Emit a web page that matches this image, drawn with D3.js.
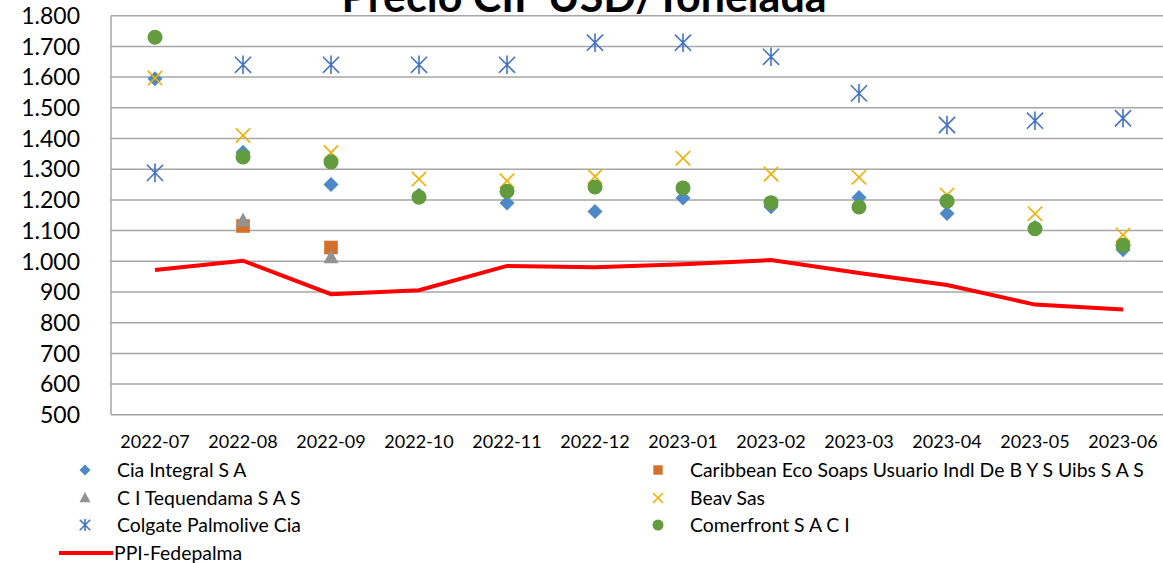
<!DOCTYPE html>
<html>
<head>
<meta charset="utf-8">
<script src="https://cdn.jsdelivr.net/npm/d3@7"></script>
<style>
  body { margin: 0; background: #fff; }
  text { font-family: Lato, "Open Sans", sans-serif; fill: #000; }
</style>
</head>
<body>
<svg id="chart"></svg>
<script>
const months = ["2022-07", "2022-08", "2022-09", "2022-10", "2022-11", "2022-12",
                "2023-01", "2023-02", "2023-03", "2023-04", "2023-05", "2023-06"];
const yTicks = [500, 600, 700, 800, 900, 1000, 1100, 1200, 1300, 1400, 1500, 1600, 1700, 1800];

// null = sin dato en ese mes
const ciaIntegral = [1595, 1355, 1250, 1215, 1190, 1162, 1206, 1178, 1208, 1156, 1110, 1038];
const caribbean   = [null, 1115, 1045, null, null, null, null, null, null, null, null, null];
const tequendama  = [null, 1132, 1012, null, null, null, null, null, null, null, null, null];
const beavSas     = [1597, 1410, 1354, 1268, 1262, 1276, 1336, 1284, 1274, 1216, 1155, 1086];
const colgate     = [1288, 1640, 1640, 1640, 1640, 1712, 1712, 1666, 1547, 1444, 1458, 1466];
const comerfront  = [1730, 1340, 1324, 1209, 1228, 1242, 1239, 1191, 1177, 1196, 1106, 1052];
const ppi         = [972, 1002, 893, 906, 985, 981, 990, 1004, 962, 923, 859, 843];

const width = 1163;
const height = 563;
const margin = { top: 15.7, left: 111, right: 1167, bottom: 414.8 };

const svg = d3.select("#chart")
    .attr("width", width)
    .attr("height", height);

const xScale = d3.scaleBand()
    .domain(months)
    .range([margin.left, margin.right]);

const yScale = d3.scaleLinear()
    .domain([500, 1800])
    .range([margin.bottom, margin.top]);

const cx = m => xScale(m) + xScale.bandwidth() / 2;

// rejilla
svg.append("g")
    .selectAll("line")
    .data(yTicks)
    .enter().append("line")
    .attr("x1", margin.left)
    .attr("x2", margin.right)
    .attr("y1", d => yScale(d))
    .attr("y2", d => yScale(d))
    .style("stroke", "#a6a6a6")
    .style("stroke-width", 1.5);

svg.append("line")
    .attr("x1", margin.left).attr("x2", margin.left)
    .attr("y1", margin.top).attr("y2", margin.bottom)
    .style("stroke", "#a6a6a6")
    .style("stroke-width", 1.5);

// eje y
const fmt = d => d3.format(",")(d).replace(",", ".");
svg.append("g")
    .selectAll("text")
    .data(yTicks)
    .enter().append("text")
    .attr("x", 80)
    .attr("y", d => yScale(d))
    .attr("dy", "0.36em")
    .attr("text-anchor", "end")
    .style("font-size", "23px")
    .text(fmt);

// eje x
svg.append("g")
    .selectAll("text")
    .data(months)
    .enter().append("text")
    .attr("x", d => cx(d))
    .attr("y", 448)
    .attr("text-anchor", "middle")
    .style("font-size", "18px")
    .text(d => d);

// titulo (cortado arriba, como en el original)
svg.append("text")
    .attr("x", 584)
    .attr("y", 11.5)
    .attr("text-anchor", "middle")
    .style("font-size", "43px")
    .style("font-weight", "bold")
    .text("Precio CIF USD/Tonelada");

const series = [
    { name: "Cia Integral S A", values: ciaIntegral, shape: "diamond", color: "#4f88c6" },
    { name: "Caribbean Eco Soaps Usuario Indl De B Y S Uibs S A S", values: caribbean, shape: "square", color: "#d2702c" },
    { name: "C I Tequendama S A S", values: tequendama, shape: "triangle", color: "#939393" },
    { name: "Beav Sas", values: beavSas, shape: "x", color: "#f0b000" },
    { name: "Colgate Palmolive Cia", values: colgate, shape: "asterisk", color: "#4472c4" },
    { name: "Comerfront S A C I", values: comerfront, shape: "circle", color: "#629c3e" }
];

function drawMarker(g, shape, color, s) {
    if (shape === "diamond") {
        g.append("path").attr("d", `M0,${-s}L${s},0L0,${s}L${-s},0Z`).attr("fill", color);
    } else if (shape === "square") {
        g.append("rect").attr("x", -s * 0.85).attr("y", -s * 0.85)
            .attr("width", s * 1.7).attr("height", s * 1.7).attr("fill", color);
    } else if (shape === "triangle") {
        g.append("path").attr("d", `M0,${-s * 1.1}L${s},${s * 0.75}L${-s},${s * 0.75}Z`).attr("fill", color);
    } else if (shape === "x") {
        const a = s * 0.9;
        g.append("path").attr("d", `M${-a},${-a}L${a},${a}M${a},${-a}L${-a},${a}`)
            .attr("stroke", color).attr("stroke-width", 1.6).attr("fill", "none");
    } else if (shape === "asterisk") {
        const a = s * 0.95;
        g.append("path").attr("d", `M${-a},${-a}L${a},${a}M${a},${-a}L${-a},${a}M0,${-a * 1.15}L0,${a * 1.15}`)
            .attr("stroke", color).attr("stroke-width", 1.6).attr("fill", "none");
    } else if (shape === "circle") {
        g.append("circle").attr("r", s).attr("fill", color);
    }
}

const markerSize = { diamond: 7.5, square: 8, triangle: 7.5, x: 8, asterisk: 8.5, circle: 7.5 };

series.forEach(sr => {
    const pts = months.map((m, i) => ({ m: m, v: sr.values[i] })).filter(d => d.v !== null);
    svg.append("g")
        .selectAll("g")
        .data(pts)
        .enter().append("g")
        .attr("transform", d => `translate(${cx(d.m)},${yScale(d.v)})`)
        .each(function () { drawMarker(d3.select(this), sr.shape, sr.color, markerSize[sr.shape]); });
});

// linea PPI
const line = d3.line()
    .x((d, i) => cx(months[i]))
    .y(d => yScale(d));

svg.append("path")
    .datum(ppi)
    .attr("d", line)
    .attr("fill", "none")
    .attr("stroke", "#ff0000")
    .attr("stroke-width", 4);

// leyenda
const legendRows = [470, 498, 525, 553];
const legendPos = [
    { mx: 85, tx: 117 }, { mx: 658, tx: 690 }
];
series.forEach((sr, i) => {
    const col = legendPos[i % 2];
    const y = legendRows[Math.floor(i / 2)];
    const g = svg.append("g").attr("transform", `translate(${col.mx},${y})`);
    drawMarker(g, sr.shape, sr.color, 5.5);
    svg.append("text")
        .attr("x", col.tx)
        .attr("y", y)
        .attr("dy", "0.36em")
        .style("font-size", "19.4px")
        .text(sr.name);
});

svg.append("line")
    .attr("x1", 59).attr("x2", 113)
    .attr("y1", legendRows[3]).attr("y2", legendRows[3])
    .attr("stroke", "#ff0000")
    .attr("stroke-width", 4);
svg.append("text")
    .attr("x", 114)
    .attr("y", legendRows[3])
    .attr("dy", "0.36em")
    .style("font-size", "19.4px")
    .text("PPI-Fedepalma");
</script>
</body>
</html>
